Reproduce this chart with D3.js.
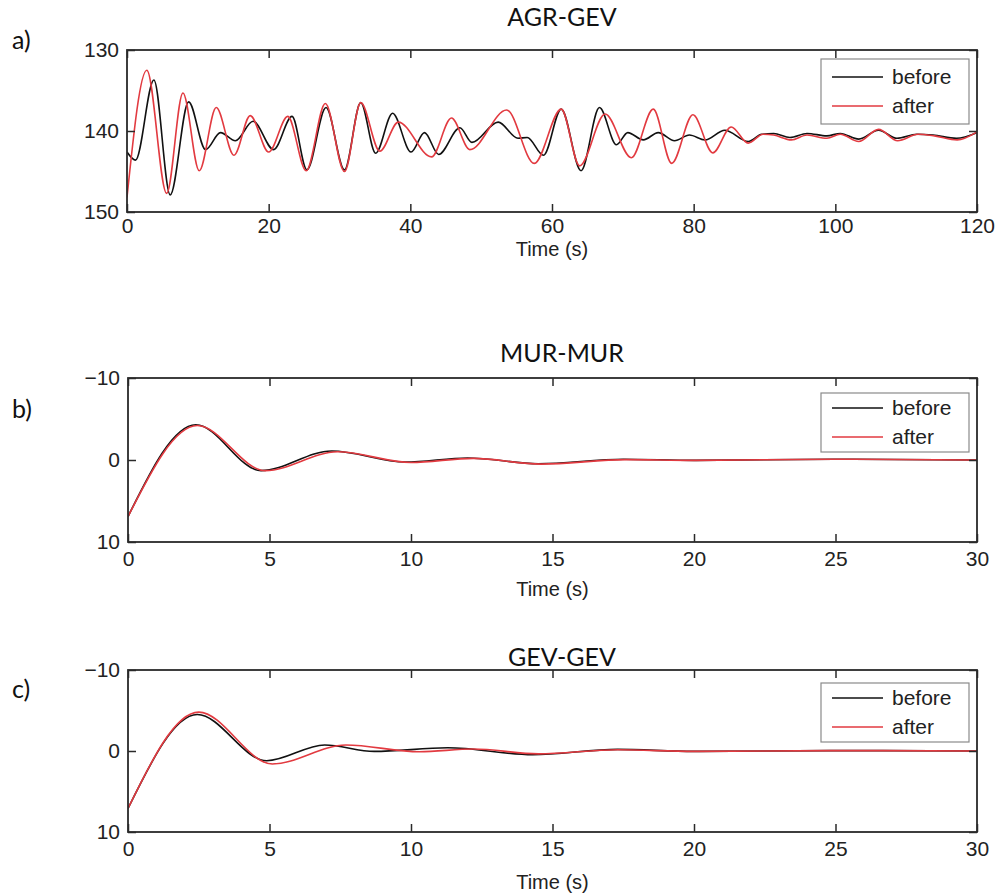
<!DOCTYPE html>
<html>
<head>
<meta charset="utf-8">
<script src="https://cdn.jsdelivr.net/npm/d3@7/dist/d3.min.js"></script>
<style>
  html, body { margin: 0; padding: 0; background: #fff; }
  svg { display: block; }
  .tick text { font-family: "Liberation Sans", Arial, sans-serif; fill: #222; }
</style>
</head>
<body>
<svg id="chart" width="997" height="895"></svg>
<script>
// ---- AGR-GEV trace, time (s) vs value ----
const agrBefore = [
  [0, 142.6], [1.2, 143.6], [3.8, 133.7], [6.1, 147.9], [8.7, 136.4], [11.1, 142.3],
  [13.2, 140.2], [15.3, 141.2], [17.8, 138.8], [20.7, 142.3], [23.3, 138.2], [25.4, 144.8],
  [28.1, 137.1], [30.7, 144.8], [33.0, 136.5], [35.1, 142.75], [37.5, 137.8], [40.1, 142.6],
  [42.0, 140.2], [44.0, 142.9], [47.0, 139.6], [48.7, 141.4], [52.4, 138.9], [55.2, 140.9],
  [56.5, 140.8], [58.8, 143.0], [61.3, 137.3], [64.1, 144.9], [66.7, 137.1], [69.1, 141.7],
  [70.7, 140.2], [72.9, 141.1], [75.0, 140.2], [77.3, 141.2], [79.4, 140.5], [81.6, 141.1],
  [84.4, 139.9], [87.7, 141.3], [89.6, 140.4], [91.3, 140.3], [93.6, 140.8], [96.0, 140.3],
  [98.8, 140.6], [100.7, 140.3], [103.3, 141.0], [106.1, 139.9], [108.7, 140.9], [111.5, 140.4],
  [113.8, 140.5], [117.1, 140.9], [120, 140.2]
];
const agrAfter = [
  [0, 148.2], [2.8, 132.5], [5.6, 147.7], [7.9, 135.3], [10.2, 144.9], [12.6, 137.1],
  [15.1, 143.0], [17.4, 138.1], [20.0, 142.6], [22.7, 138.2], [25.3, 144.9], [28.0, 136.6],
  [30.7, 145.0], [33.0, 136.5], [35.7, 142.5], [38.3, 138.9], [43.0, 143.2], [45.8, 138.4],
  [48.4, 142.3], [53.6, 137.4], [57.5, 144.0], [61.3, 137.3], [63.9, 144.3], [67.5, 137.9],
  [71.2, 143.3], [74.3, 137.3], [76.9, 144.0], [79.9, 138.0], [82.7, 142.7], [85.3, 139.5],
  [87.7, 141.5], [89.8, 140.4], [91.3, 140.5], [93.8, 141.1], [96.0, 140.5], [98.8, 140.9],
  [100.7, 140.4], [103.3, 141.3], [106.1, 139.8], [108.8, 141.2], [111.7, 140.4], [114.0, 140.6],
  [117.2, 141.1], [120, 140.1]
];

// ---- MUR-MUR trace ----
const murBefore = [
  [0, 6.9], [2.4, -4.3], [4.7, 1.3], [7.2, -1.1], [9.8, 0.25], [12.0, -0.25],
  [14.5, 0.45], [17.5, -0.1], [20, 0.05], [25, -0.1], [30, 0]
];
const murAfter = [
  [0, 6.9], [2.45, -4.2], [4.85, 1.3], [7.4, -1.0], [10.0, 0.3], [12.2, -0.2],
  [14.6, 0.5], [17.6, -0.05], [20, 0.05], [25, -0.1], [30, 0]
];

// ---- GEV-GEV trace ----
const gevBefore = [
  [0, 7.1], [2.45, -4.5], [4.9, 1.2], [6.95, -0.75], [8.7, 0.05], [11.3, -0.4],
  [14.3, 0.45], [17.3, -0.2], [20, 0.05], [25, -0.05], [30, 0]
];
const gevAfter = [
  [0, 7.1], [2.5, -4.8], [5.1, 1.6], [7.7, -0.75], [10.3, 0.1], [12.2, -0.25],
  [14.5, 0.35], [17.3, -0.15], [20, 0.05], [25, -0.05], [30, 0]
];

// ---- ticks, titles, legend ----
const xTicksA = [0, 20, 40, 60, 80, 100, 120];
const yTicksA = [130, 140, 150];
const xTicksBC = [0, 5, 10, 15, 20, 25, 30];
const yTicksBC = [-10, 0, 10];
const titles = ["AGR-GEV", "MUR-MUR", "GEV-GEV"];
const panelTags = ["a)", "b)", "c)"];
const seriesNames = ["before", "after"];
const xLabel = "Time (s)";

const colors = ["#111111", "#e23a40"];
const fontAxis = '"Liberation Sans", Arial, sans-serif';
const fontTitle = 'Lato, "Open Sans", sans-serif';

const svg = d3.select("#chart");

const panels = [
  { tag: panelTags[0], title: titles[0], data: [agrBefore, agrAfter],
    xDom: [0, 120], yDom: [130, 150], xTicks: xTicksA, yTicks: yTicksA,
    left: 127, right: 977, top: 50, bottom: 212, xPad: 6,
    titleY: 26, tagY: 49, xLabY: 256, legY: 59, legH: 65, legRow0: 18 },
  { tag: panelTags[1], title: titles[1], data: [murBefore, murAfter],
    xDom: [0, 30], yDom: [-10, 10], xTicks: xTicksBC, yTicks: yTicksBC,
    left: 128, right: 977, top: 378, bottom: 542, xPad: 9,
    titleY: 362, tagY: 418, xLabY: 596, legY: 393, legH: 59, legRow0: 15 },
  { tag: panelTags[2], title: titles[2], data: [gevBefore, gevAfter],
    xDom: [0, 30], yDom: [-10, 10], xTicks: xTicksBC, yTicks: yTicksBC,
    left: 128, right: 977, top: 670, bottom: 832, xPad: 9,
    titleY: 666, tagY: 698, xLabY: 889, legY: 683, legH: 59, legRow0: 15 }
];

panels.forEach((p, pi) => {
  const x = d3.scaleLinear().domain(p.xDom).range([p.left, p.right]);
  const y = d3.scaleLinear().domain(p.yDom).range([p.top, p.bottom]);
  const g = svg.append("g");

  // traces, clipped to the plot box
  const line = d3.line()
    .x(d => x(d[0])).y(d => y(d[1]))
    .curve(d3.curveMonotoneX);
  const clipId = "clip-" + pi;
  svg.append("clipPath").attr("id", clipId).append("rect")
    .attr("x", p.left).attr("y", p.top)
    .attr("width", p.right - p.left).attr("height", p.bottom - p.top);
  p.data.forEach((s, i) => {
    g.append("path").datum(s)
      .attr("clip-path", `url(#${clipId})`)
      .attr("fill", "none")
      .attr("stroke", colors[i])
      .attr("stroke-width", 1.6)
      .attr("stroke-linejoin", "round")
      .attr("d", line);
  });

  // axes with inward ticks on all four sides
  const tickLen = 8;
  const fmt = d3.format("d");
  const bottom = g.append("g").attr("transform", `translate(0,${p.bottom})`)
    .call(d3.axisBottom(x).tickValues(p.xTicks).tickSize(-tickLen).tickPadding(p.xPad).tickFormat(fmt));
  const top = g.append("g").attr("transform", `translate(0,${p.top})`)
    .call(d3.axisTop(x).tickValues(p.xTicks).tickSize(-tickLen).tickFormat(""));
  const left = g.append("g").attr("transform", `translate(${p.left},0)`)
    .call(d3.axisLeft(y).tickValues(p.yTicks).tickSize(-tickLen).tickPadding(8).tickFormat(fmt));
  const right = g.append("g").attr("transform", `translate(${p.right},0)`)
    .call(d3.axisRight(y).tickValues(p.yTicks).tickSize(-tickLen).tickFormat(""));
  [bottom, top, left, right].forEach(a => {
    a.select(".domain").remove();
    a.selectAll(".tick line").attr("stroke", "#2a2a2a").attr("stroke-width", 1.5);
    a.selectAll(".tick text").attr("font-size", 21).attr("fill", "#222");
  });

  // frame
  g.append("rect")
    .attr("x", p.left).attr("y", p.top)
    .attr("width", p.right - p.left).attr("height", p.bottom - p.top)
    .attr("fill", "none").attr("stroke", "#2a2a2a").attr("stroke-width", 1.8);

  // x label
  g.append("text").attr("x", (p.left + p.right) / 2).attr("y", p.xLabY)
    .attr("text-anchor", "middle").attr("font-family", fontAxis)
    .attr("font-size", 20).attr("fill", "#222").text(xLabel);

  // title and panel tag
  g.append("text").attr("x", 562).attr("y", p.titleY)
    .attr("text-anchor", "middle").attr("font-family", fontTitle)
    .attr("font-size", 25).attr("fill", "#111").text(p.title);
  g.append("text").attr("x", 12).attr("y", p.tagY)
    .attr("font-family", fontTitle)
    .attr("font-size", 25).attr("fill", "#111").text(p.tag);

  // legend
  const lg = g.append("g");
  const lx = 821, lw = 148;
  lg.append("rect").attr("x", lx).attr("y", p.legY).attr("width", lw).attr("height", p.legH)
    .attr("fill", "#fff").attr("stroke", "#8a8a8a").attr("stroke-width", 1.2);
  seriesNames.forEach((name, i) => {
    const ry = p.legY + p.legRow0 + i * 29;
    lg.append("line").attr("x1", lx + 11).attr("x2", lx + 62)
      .attr("y1", ry).attr("y2", ry)
      .attr("stroke", colors[i]).attr("stroke-width", 1.6);
    lg.append("text").attr("x", lx + 71).attr("y", ry + 7)
      .attr("font-family", fontAxis).attr("font-size", 21).attr("fill", "#222")
      .text(name);
  });
});
</script>
</body>
</html>
